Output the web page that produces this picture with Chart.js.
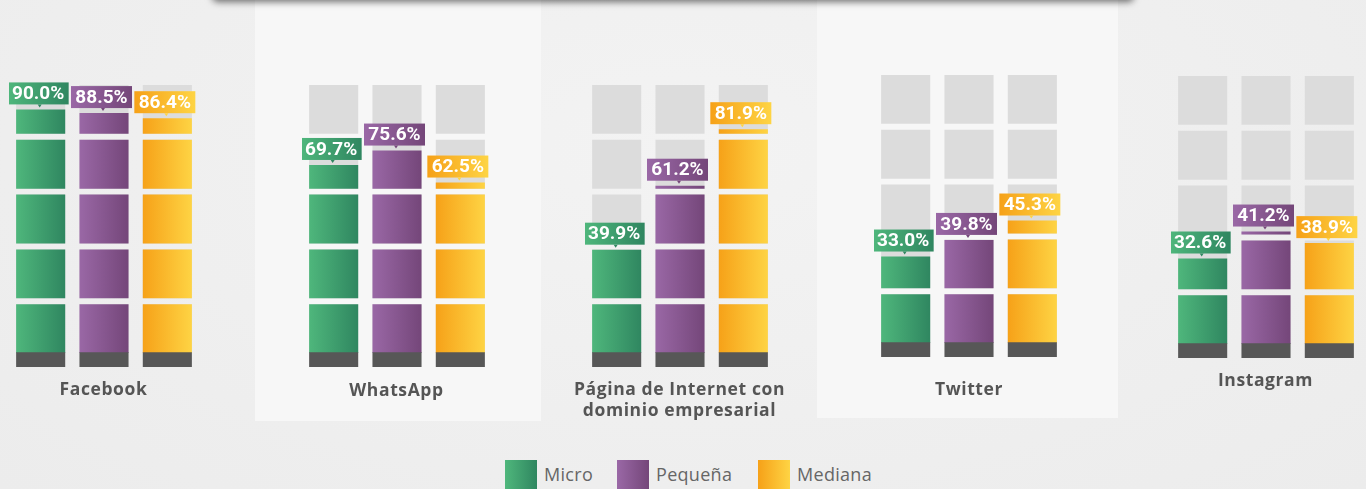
<!DOCTYPE html>
<html>
<head>
<meta charset="utf-8">
<script src="https://cdn.jsdelivr.net/npm/chart.js@4.4.1/dist/chart.umd.min.js"></script>
<style>
  html, body { margin: 0; padding: 0; }
  body {
    width: 1366px; height: 489px; overflow: hidden; position: relative;
    background: radial-gradient(ellipse at 50% 30%, #f3f3f3 0%, #eeeeee 70%, #ececec 100%);
    font-family: "Open Sans", sans-serif;
  }
  .panel { position: absolute; top: 0; background: #f7f7f7; }
  .shadow {
    position: absolute; left: 212px; width: 922px; top: -20px; height: 20px;
    background: #666; box-shadow: 0 2px 7px rgba(0,0,0,0.55); border-radius: 0 0 6px 6px;
  }
  canvas.mini { position: absolute; }
  .cat {
    position: absolute; width: 260px; text-align: center; color: #555;
    font: bold 17.5px "Open Sans", sans-serif; line-height: 21px; letter-spacing: 0.6px;
  }
  .legend { position: absolute; top: 460px; height: 29px; }
  .legend span.sw { position: absolute; top: 0; width: 32px; height: 29px; }
  .legend span.tx { position: absolute; top: 2px; color: #666; font: 18px "Open Sans", sans-serif; white-space: nowrap; letter-spacing: 0.3px; }
</style>
</head>
<body>
<div class="panel" style="left:255px;width:286px;height:421px"></div>
<div class="panel" style="left:817px;width:301px;height:418px"></div>
<div class="shadow"></div>
<div id="charts"></div>
<div class="legend" id="legend"></div>

<script>
// datos (porcentaje de empresas que usan cada medio)
const categories = ['Facebook', 'WhatsApp', ['Página de Internet con', 'dominio empresarial'], 'Twitter', 'Instagram'];
const seriesNames = ['Micro', 'Pequeña', 'Mediana'];
const micro   = [90.0, 69.7, 39.9, 33.0, 32.6];
const pequena = [88.5, 75.6, 61.2, 39.8, 41.2];
const mediana = [86.4, 62.5, 81.9, 45.3, 38.9];

// colores (degradado izquierda -> derecha)
const gradColors = [
  ['#4fb77c', '#2f8660'],
  ['#9a68a6', '#744679'],
  ['#f6a118', '#fed444']
];

// posición de cada grupo
const groupCenter = [103.5, 396.5, 679.5, 969, 1265.5];
const groupTop = [85, 85, 85, 75, 76];
const titleTop = [378, 379, 378, 378, 369];

const BLOCK = 20;
const GAP = 20 * 6 / 49;
const STEP = BLOCK + GAP;

function valueToUnit(v) {
  const k = Math.min(Math.floor(v / BLOCK), 4);
  return k * STEP + (v - k * BLOCK);
}

function makeGradient(chart, i, halfW) {
  if (i === undefined || !gradColors[i]) return gradColors[0][0];
  const xs = chart.scales.x;
  const cx = xs ? xs.getPixelForValue(i) : NaN;
  if (!isFinite(cx)) return gradColors[i][0];
  const g = chart.ctx.createLinearGradient(cx - halfW, 0, cx + halfW, 0);
  g.addColorStop(0, gradColors[i][0]);
  g.addColorStop(1, gradColors[i][1]);
  return g;
}

const labelPlugin = {
  id: 'valueBoxes',
  afterDatasetsDraw(chart) {
    const vals = chart.config.options.plugins.valueBoxes.values;
    const ctx = chart.ctx;
    const xs = chart.scales.x, ys = chart.scales.y;
    ctx.save();
    vals.forEach((v, i) => {
      const x = xs.getPixelForValue(i);
      const y = ys.getPixelForValue(valueToUnit(v));
      const w = 61, h = 22;
      const bx = x - 2.5 - w / 2;
      const by = y - 5 - h;
      const g = ctx.createLinearGradient(bx, 0, bx + w, 0);
      g.addColorStop(0, gradColors[i][0]);
      g.addColorStop(1, gradColors[i][1]);
      ctx.fillStyle = g;
      ctx.fillRect(bx, by, w, h);
      // puntero
      ctx.fillStyle = gradColors[i][1];
      ctx.beginPath();
      ctx.moveTo(x - 3, by + h);
      ctx.lineTo(x + 1, by + h);
      ctx.lineTo(x - 1, by + h + 3);
      ctx.closePath();
      ctx.fill();
      ctx.fillStyle = '#ffffff';
      ctx.font = 'bold 19px Roboto, sans-serif';
      ctx.textAlign = 'center';
      ctx.textBaseline = 'middle';
      ctx.fillText(v.toFixed(1) + '%', bx + w / 2, by + h / 2 + 1);
    });
    ctx.restore();
  }
};

const holder = document.getElementById('charts');

categories.forEach((cat, gi) => {
  const vals = [micro[gi], pequena[gi], mediana[gi]];
  const canvas = document.createElement('canvas');
  canvas.className = 'mini';
  canvas.width = 190;
  canvas.height = 332;
  canvas.style.left = (groupCenter[gi] - 95) + 'px';
  canvas.style.top = (groupTop[gi] - 40) + 'px';
  holder.appendChild(canvas);

  const datasets = [];
  // bloques grises de fondo
  for (let k = 0; k < 5; k++) {
    datasets.push({
      data: vals.map(() => [k * STEP, k * STEP + BLOCK]),
      backgroundColor: '#dcdcdc',
      order: 3
    });
  }
  // bloques de color
  for (let k = 0; k < 5; k++) {
    datasets.push({
      data: vals.map(v => {
        const part = Math.max(0, Math.min(BLOCK, v - k * BLOCK));
        return part > 0 ? [k * STEP, k * STEP + part] : null;
      }),
      backgroundColor: (c) => makeGradient(c.chart, c.dataIndex, 25),
      order: 2
    });
  }
  // base gris oscura
  datasets.push({
    data: vals.map(() => [-5.7, 0.3]),
    backgroundColor: '#575757',
    order: 1
  });

  new Chart(canvas.getContext('2d'), {
    type: 'bar',
    data: { labels: seriesNames, datasets: datasets },
    options: {
      responsive: false,
      animation: false,
      devicePixelRatio: 1,
      layout: { padding: { top: 40, bottom: 10, left: 0, right: 0 } },
      datasets: { bar: { categoryPercentage: 1, barPercentage: 0.775, borderWidth: 0 } },
      scales: {
        x: { display: false, stacked: true },
        y: { display: false, stacked: false, min: -5.7, max: 4 * STEP + BLOCK }
      },
      plugins: {
        legend: { display: false },
        tooltip: { enabled: false },
        valueBoxes: { values: vals }
      }
    },
    plugins: [labelPlugin]
  });

  const t = document.createElement('div');
  t.className = 'cat';
  t.style.left = (groupCenter[gi] - 130) + 'px';
  t.style.top = titleTop[gi] + 'px';
  t.innerHTML = Array.isArray(cat) ? cat.join('<br>') : cat;
  document.body.appendChild(t);
});

// leyenda
const legend = document.getElementById('legend');
const legendX = [505, 617, 758];
seriesNames.forEach((name, i) => {
  const sw = document.createElement('span');
  sw.className = 'sw';
  sw.style.left = legendX[i] + 'px';
  sw.style.background = `linear-gradient(90deg, ${gradColors[i][0]}, ${gradColors[i][1]})`;
  const tx = document.createElement('span');
  tx.className = 'tx';
  tx.style.left = (legendX[i] + 39) + 'px';
  tx.textContent = name;
  legend.appendChild(sw);
  legend.appendChild(tx);
});
</script>
</body>
</html>
